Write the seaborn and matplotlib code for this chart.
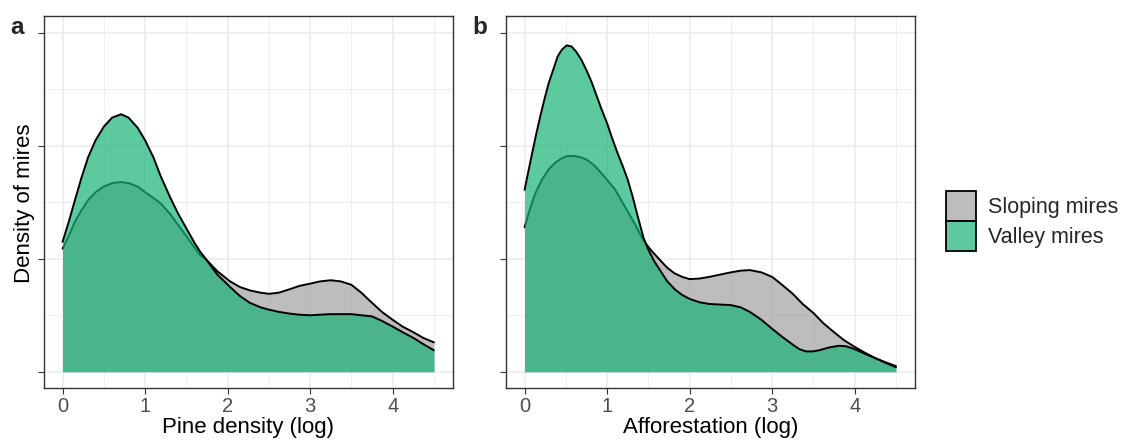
import numpy as np
import pandas as pd
import matplotlib
matplotlib.use("Agg")
import matplotlib.pyplot as plt
from matplotlib.patches import Patch
import seaborn as sns

# ---- data (y in arbitrary density units) ----
groups = ["Sloping mires", "Valley mires"]

# Panel a: Pine density (log)
a_slope_x = [0.0, 0.08, 0.15, 0.23, 0.31, 0.4, 0.5, 0.6, 0.71, 0.8, 0.91, 1.0, 1.1, 1.19, 1.3, 1.4, 1.5, 1.6, 1.67, 1.745, 1.875, 2.03, 2.15, 2.27, 2.4, 2.5, 2.62, 2.75, 2.87, 3.0, 3.12, 3.25, 3.37, 3.5, 3.62, 3.75, 3.87, 4.0, 4.12, 4.25, 4.37, 4.5]
a_slope_y = [1.09, 1.21, 1.33, 1.43, 1.52, 1.59, 1.64, 1.67, 1.68, 1.67, 1.64, 1.59, 1.54, 1.49, 1.40, 1.30, 1.20, 1.10, 1.03, 0.99, 0.89, 0.80, 0.75, 0.72, 0.70, 0.69, 0.70, 0.73, 0.76, 0.78, 0.80, 0.81, 0.80, 0.77, 0.70, 0.61, 0.53, 0.46, 0.40, 0.35, 0.30, 0.26]
a_valley_x = [0.0, 0.08, 0.15, 0.23, 0.31, 0.4, 0.5, 0.6, 0.71, 0.8, 0.91, 1.0, 1.1, 1.19, 1.3, 1.4, 1.5, 1.6, 1.67, 1.745, 1.875, 2.03, 2.15, 2.27, 2.4, 2.5, 2.62, 2.75, 2.87, 3.0, 3.12, 3.25, 3.37, 3.5, 3.62, 3.75, 3.87, 4.0, 4.12, 4.25, 4.37, 4.5]
a_valley_y = [1.15, 1.34, 1.52, 1.72, 1.90, 2.05, 2.17, 2.25, 2.28, 2.25, 2.16, 2.05, 1.90, 1.73, 1.55, 1.40, 1.27, 1.14, 1.06, 0.99, 0.86, 0.75, 0.67, 0.61, 0.57, 0.55, 0.53, 0.515, 0.505, 0.50, 0.505, 0.51, 0.51, 0.51, 0.50, 0.49, 0.45, 0.40, 0.35, 0.30, 0.245, 0.19]

# Panel b: Afforestation (log)
b_slope_x = [0.0, 0.065, 0.13, 0.21, 0.29, 0.37, 0.45, 0.52, 0.6, 0.67, 0.75, 0.84, 0.93, 1.01, 1.1, 1.17, 1.25, 1.35, 1.44, 1.54, 1.64, 1.73, 1.82, 1.91, 2.0, 2.12, 2.24, 2.37, 2.5, 2.62, 2.73, 2.87, 3.0, 3.12, 3.25, 3.37, 3.5, 3.62, 3.75, 3.87, 4.0, 4.12, 4.25, 4.37, 4.5]
b_slope_y = [1.28, 1.44, 1.58, 1.70, 1.79, 1.85, 1.89, 1.91, 1.91, 1.90, 1.88, 1.83, 1.76, 1.69, 1.61, 1.52, 1.42, 1.29, 1.16, 1.07, 0.99, 0.92, 0.87, 0.84, 0.82, 0.825, 0.84, 0.86, 0.88, 0.895, 0.90, 0.88, 0.84, 0.77, 0.69, 0.60, 0.52, 0.43, 0.35, 0.28, 0.22, 0.17, 0.12, 0.085, 0.05]
b_valley_x = [0.0, 0.045, 0.09, 0.14, 0.19, 0.24, 0.29, 0.35, 0.4, 0.45, 0.51, 0.57, 0.63, 0.69, 0.75, 0.81, 0.87, 0.93, 1.0, 1.06, 1.13, 1.19, 1.25, 1.31, 1.37, 1.44, 1.5, 1.57, 1.64, 1.73, 1.82, 1.91, 2.0, 2.12, 2.24, 2.37, 2.5, 2.62, 2.73, 2.87, 3.0, 3.12, 3.25, 3.33, 3.41, 3.49, 3.57, 3.69, 3.81, 3.9, 4.0, 4.12, 4.25, 4.37, 4.5]
b_valley_y = [1.61, 1.77, 1.93, 2.10, 2.26, 2.41, 2.55, 2.68, 2.79, 2.85, 2.89, 2.88, 2.83, 2.76, 2.67, 2.57, 2.45, 2.33, 2.20, 2.07, 1.93, 1.82, 1.70, 1.55, 1.38, 1.19, 1.08, 0.98, 0.90, 0.80, 0.73, 0.68, 0.645, 0.615, 0.60, 0.595, 0.59, 0.57, 0.53, 0.46, 0.38, 0.31, 0.24, 0.20, 0.18, 0.18, 0.19, 0.215, 0.23, 0.225, 0.20, 0.16, 0.12, 0.08, 0.04]

x_ticks = [0, 1, 2, 3, 4]
x_titles = ["Pine density (log)", "Afforestation (log)"]
panel_tags = ["a", "b"]
y_title = "Density of mires"

# ---- styling ----
sns.set_theme(style="white")
plt.rcParams["font.family"] = ["Liberation Sans", "DejaVu Sans"]

grey_fill = "#A2A2A2"
green_fill = "#19B277"
alpha = 0.7
palette = {"Sloping mires": grey_fill, "Valley mires": green_fill}

W, H = 1134, 447
fig = plt.figure(figsize=(W / 100, H / 100), dpi=100)

panels = [
    (a_slope_x, a_slope_y, a_valley_x, a_valley_y),
    (b_slope_x, b_slope_y, b_valley_x, b_valley_y),
]
lefts = [44, 506]
for i, (sx, sy, vx, vy) in enumerate(panels):
    ax = fig.add_axes([lefts[i] / W, 59 / H, 408.5 / W, 372 / H])
    df = pd.concat([
        pd.DataFrame({"x": sx, "y": sy, "group": groups[0]}),
        pd.DataFrame({"x": vx, "y": vy, "group": groups[1]}),
    ], ignore_index=True)
    # grid
    for xv in np.arange(0, 5, 1):
        ax.axvline(xv, color="#EBEBEB", lw=1.1, zorder=0)
    for xv in np.arange(0.5, 5, 1):
        ax.axvline(xv, color="#EBEBEB", lw=0.6, zorder=0)
    for yv in [0, 1, 2, 3]:
        ax.axhline(yv, color="#EBEBEB", lw=1.1, zorder=0)
    for yv in [0.5, 1.5, 2.5]:
        ax.axhline(yv, color="#EBEBEB", lw=0.6, zorder=0)
    z = 2
    for g in groups:
        d = df[df["group"] == g]
        ax.fill_between(d["x"], 0, d["y"], color=palette[g], alpha=alpha, lw=0, zorder=z)
        sns.lineplot(data=d, x="x", y="y", color="black", lw=1.4, ax=ax,
                     zorder=z + 0.5, sort=False, estimator=None,
                     solid_joinstyle="round", solid_capstyle="round")
        z += 1
    ax.set_xlim(-0.225, 4.725)
    ax.set_ylim(-0.144, 3.15)
    ax.set_xticks(x_ticks)
    ax.set_xticklabels([str(t) for t in x_ticks], fontsize=14.5, color="#4D4D4D")
    ax.set_yticks([0, 1, 2, 3])
    ax.set_yticklabels([])
    ax.tick_params(axis="both", which="major", length=4.5, width=0.8, color="#333333",
                   direction="out", bottom=True, left=True, pad=2)
    for sp in ax.spines.values():
        sp.set_color("#333333")
        sp.set_linewidth(1.0)
        sp.set_visible(True)
    ax.set_xlabel(x_titles[i], fontsize=16, labelpad=1, color="black")
    ax.set_ylabel("")
    ax.grid(False)
    fig.text((lefts[i] - 34) / W, 1 - 27 / H, panel_tags[i], fontsize=17.5,
             fontweight="bold", ha="left", va="center")

fig.text(25 / W, 1 - 203 / H, y_title, rotation=90, fontsize=16,
         ha="center", va="center", color="black")

handles = [
    Patch(facecolor=matplotlib.colors.to_rgba(palette[g], alpha), edgecolor="black", lw=1.3)
    for g in groups
]
fig.legend(handles, groups, loc="center left", bbox_to_anchor=(931 / W, 1 - 221 / H),
           frameon=False, fontsize=15.5, handlelength=1.4, handleheight=1.75,
           labelspacing=0.0, handletextpad=0.55, borderpad=0.2)

fig.savefig("out.png", dpi=100)
